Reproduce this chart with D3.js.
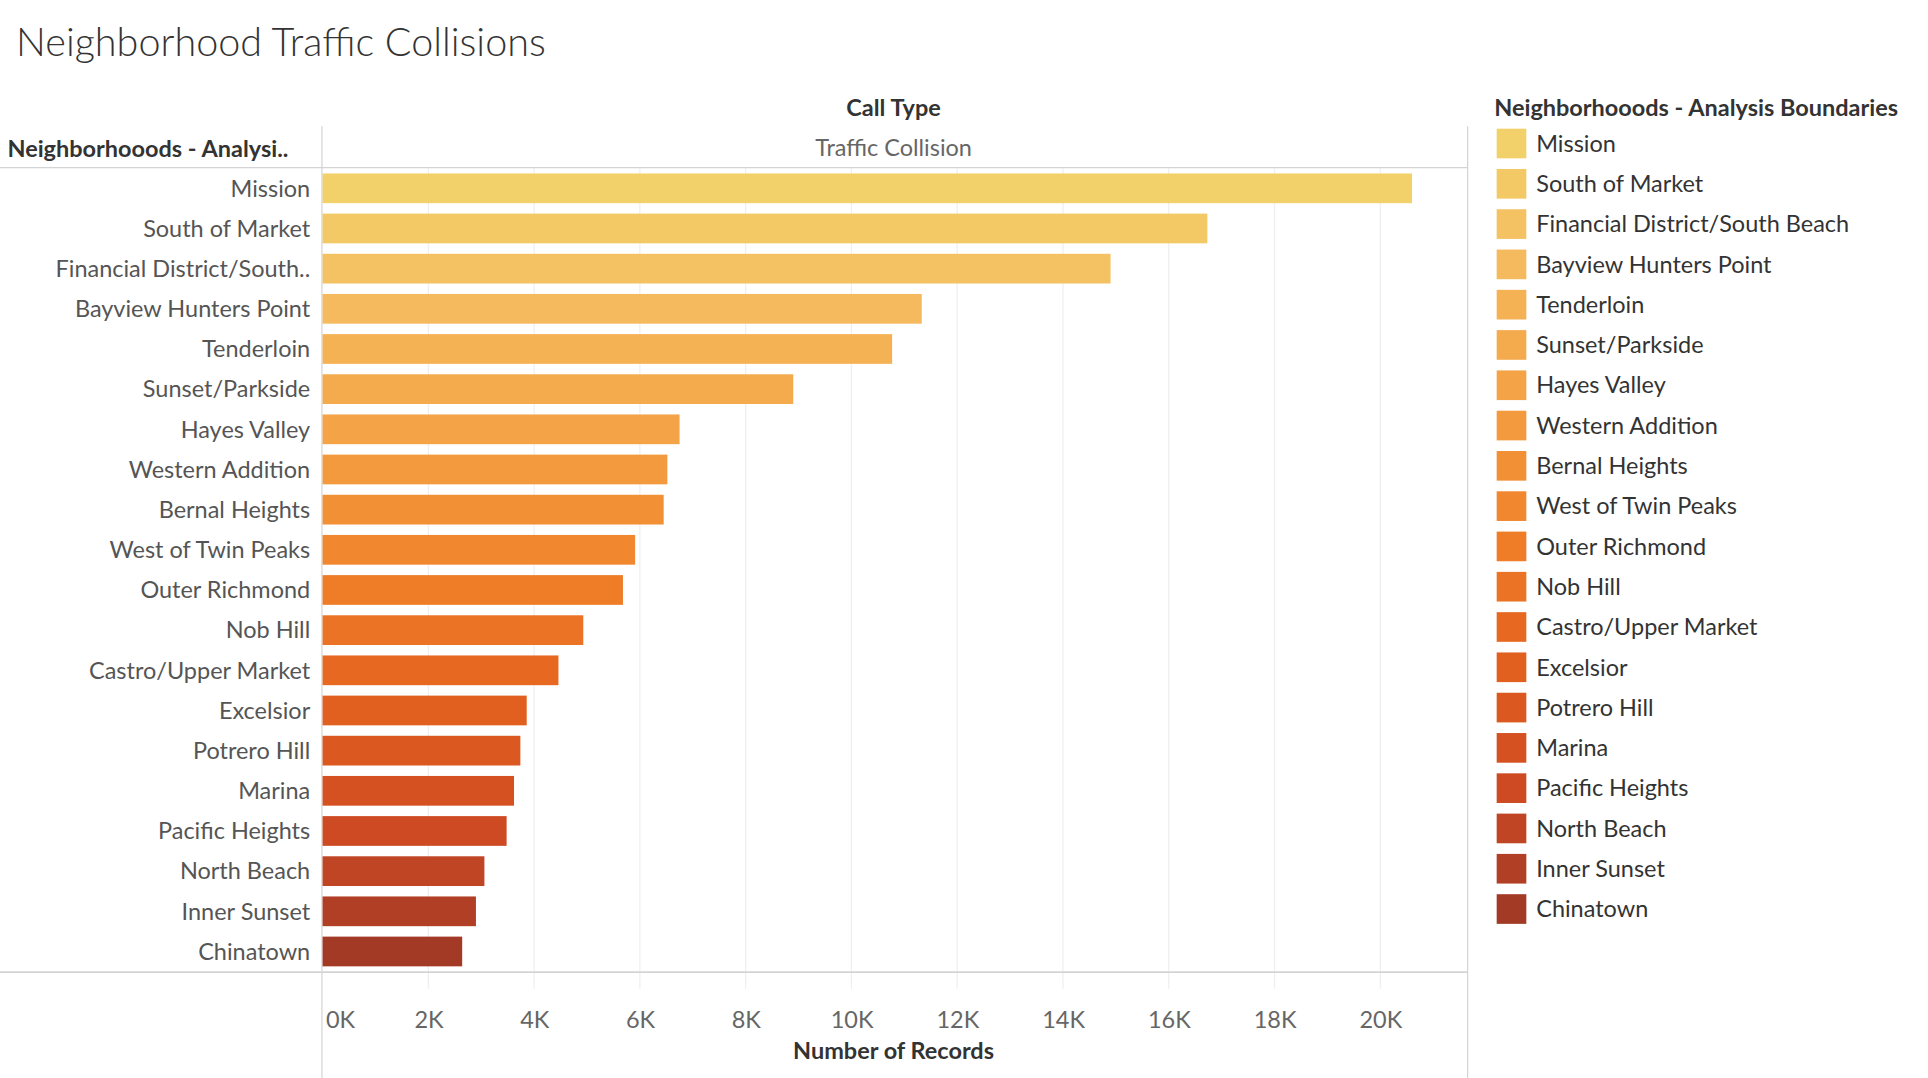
<!DOCTYPE html>
<html><head><meta charset="utf-8">
<script src="https://cdn.jsdelivr.net/npm/d3@7"></script>
<style>body{margin:0;background:#fff}text{font-family:Lato,"Open Sans",sans-serif}</style>
</head><body><svg id="chart"></svg>
<script>
const neighborhoods = ["Mission","South of Market","Financial District/South Beach","Bayview Hunters Point","Tenderloin","Sunset/Parkside","Hayes Valley","Western Addition","Bernal Heights","West of Twin Peaks","Outer Richmond","Nob Hill","Castro/Upper Market","Excelsior","Potrero Hill","Marina","Pacific Heights","North Beach","Inner Sunset","Chinatown"];
const records = [20600,16730,14900,11330,10770,8900,6750,6520,6450,5910,5680,4930,4460,3860,3740,3620,3480,3060,2900,2640];
const tickValues = [0,2000,4000,6000,8000,10000,12000,14000,16000,18000,20000];
const rampColors = ["#f2d16b","#f5b95c","#f4a043","#f1822a","#e4621f","#cf4b23","#a33a26"];

// drawn in a 1560x872 space then scaled up to the window
const svg = d3.select("#chart").attr("width",1928).attr("height",1078).attr("viewBox","0 0 1560 872");
const x = d3.scaleLinear().domain([0,21640]).range([261,1187]);
const y = d3.scaleBand().domain(neighborhoods).range([136,786]).paddingInner(0.26).paddingOuter(0.13);
const color = d3.scaleLinear().domain(d3.range(rampColors.length).map(i=>i*(neighborhoods.length-1)/(rampColors.length-1))).range(rampColors);

svg.append("text").attr("x",13).attr("y",45).attr("font-size",32).attr("fill","#333").attr("font-weight",300).text("Neighborhood Traffic Collisions");

// gridlines
svg.append("g").selectAll("line").data(tickValues.slice(1)).join("line")
  .attr("x1",d=>x(d)).attr("x2",d=>x(d)).attr("y1",136).attr("y2",800).attr("stroke","#efefef");

// frame lines
const frame = svg.append("g").attr("stroke","#d4d4d4");
frame.append("line").attr("x1",0).attr("x2",1187).attr("y1",135.5).attr("y2",135.5);
frame.append("line").attr("x1",0).attr("x2",1187).attr("y1",786.5).attr("y2",786.5).attr("stroke-width",1.5);
frame.append("line").attr("x1",260.5).attr("x2",260.5).attr("y1",102).attr("y2",876);
frame.append("line").attr("x1",1187.5).attr("x2",1187.5).attr("y1",102).attr("y2",876);

svg.append("text").attr("x",723).attr("y",94).attr("text-anchor","middle").attr("font-size",19).attr("font-weight",700).attr("fill","#333").text("Call Type");
svg.append("text").attr("x",723).attr("y",126).attr("text-anchor","middle").attr("font-size",19).attr("fill","#666").text("Traffic Collision");
svg.append("text").attr("x",6).attr("y",127).attr("font-size",19).attr("font-weight",700).attr("fill","#333").text("Neighborhooods - Analysi..");

svg.append("g").selectAll("rect").data(neighborhoods).join("rect")
  .attr("x",x(0)).attr("y",d=>y(d)).attr("height",y.bandwidth())
  .attr("width",(d,i)=>x(records[i])-x(0)).attr("fill",(d,i)=>color(i));

svg.append("g").selectAll("text").data(neighborhoods).join("text")
  .attr("x",251).attr("y",d=>y(d)+y.bandwidth()/2).attr("dy","0.35em").attr("text-anchor","end")
  .attr("font-size",19).attr("fill","#555").text(d=>d.length>26?d.slice(0,24)+"..":d);

const xAxis = d3.axisBottom(x).tickValues(tickValues).tickSize(0).tickPadding(0).tickFormat(d=>d/1000+"K");
const xg = svg.append("g").attr("transform","translate(0,818)").call(xAxis);
xg.select(".domain").remove();
xg.selectAll("text").attr("font-size",19).attr("fill","#666").attr("font-family","Lato,'Open Sans',sans-serif")
  .attr("dx",d=>d===0?14:0);
svg.append("text").attr("x",723).attr("y",857).attr("text-anchor","middle").attr("font-size",19).attr("font-weight",700).attr("fill","#333").text("Number of Records");

// legend
svg.append("text").attr("x",1209).attr("y",94).attr("font-size",19).attr("font-weight",700).attr("fill","#333").text("Neighborhoods - Analysis Boundaries".replace("Neighborhoods","Neighborhooods"));
const lg = svg.append("g").selectAll("g").data(neighborhoods).join("g")
  .attr("transform",(d,i)=>`translate(1211,${104+i*32.6})`);
lg.append("rect").attr("width",24).attr("height",24).attr("fill",(d,i)=>color(i));
lg.append("text").attr("x",32).attr("y",12).attr("dy","0.35em").attr("font-size",19).attr("fill","#333").text(d=>d);
</script></body></html>
